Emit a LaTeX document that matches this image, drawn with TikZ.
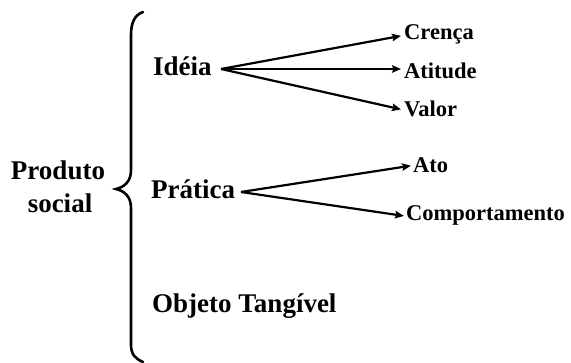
\documentclass[tikz,border=0pt]{standalone}
\usepackage{fontspec}
\setmainfont{Liberation Serif}
\usetikzlibrary{arrows.meta}
\begin{document}
\begin{tikzpicture}[x=1pt,y=-1pt,
  big/.style={font=\bfseries\fontsize{27}{32}\selectfont, inner sep=0pt},
  small/.style={font=\bfseries\fontsize{22.5}{25}\selectfont, inner sep=0pt},
  arr/.style={line width=2.2pt, -{Stealth[length=9pt,width=7.5pt,inset=1.5pt]}},
  brace/.style={line width=2.6pt, line cap=round}]
\useasboundingbox (0,0) rectangle (571,363);

% left label and brace
\node[big, anchor=base] (prod) at (58,180) {Produto};
\node[big, anchor=base] (soc) at (60,213) {social};
\draw[brace] (143,12) .. controls (135,15) and (131,22) .. (131,35)
  -- (131,170) .. controls (131,182) and (124,187) .. (116,189)
  .. controls (124,191) and (131,196) .. (131,208)
  -- (131,345) .. controls (131,355) and (136,359) .. (143,362);

% categories
\node[big, anchor=base west] (idea) at (153,76) {Idéia};
\node[big, anchor=base west] (prat) at (151,199) {Prática};
\node[big, anchor=base west] (obj) at (152,313) {Objeto Tangível};

% right-hand labels
\node[small, anchor=base west] (cren) at (404,40) {Crença};
\node[small, anchor=base west] (atit) at (404,79) {Atitude};
\node[small, anchor=base west] (valor) at (404,117) {Valor};
\node[small, anchor=base west] (ato) at (413,173) {Ato};
\node[small, anchor=base west] (comp) at (406,221) {Comportamento};

% fan points
\coordinate (ideaout) at (221,69);
\coordinate (pratout) at (241,192);

\draw[arr] (ideaout) -- ([xshift=-3pt,yshift=-1pt]cren.west);
\draw[arr] (ideaout) -- ([xshift=-3pt]atit.west |- ideaout);
\draw[arr] (ideaout) -- ([xshift=-3pt]valor.west);
\draw[arr] (pratout) -- ([xshift=-2pt]ato.west);
\draw[arr] (pratout) -- ([xshift=-2pt]comp.west);
\end{tikzpicture}
\end{document}
